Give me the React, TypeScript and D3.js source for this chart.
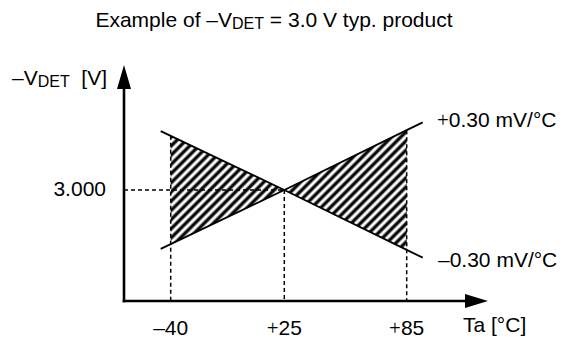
import React from "react";
import * as d3 from "d3";

// temperature ticks (°C) and the detect voltage band (V)
const temps = [-40, 25, 85];
const tickLabels = ["–40", "+25", "+85"];
const typVoltage = 3.0;
const plusLine = [2.981, 3.0, 3.021]; // +0.30 mV/°C
const minusLine = [3.019, 3.0, 2.979]; // –0.30 mV/°C

const W = 567;
const H = 341;
const axisX = 124;
const axisY = 301;
const font = "'Liberation Sans', Arial, sans-serif";
const plusFont = "'Liberation Serif', 'Times New Roman', serif";

// schematic x axis, not to scale
const x = d3.scaleLinear().domain(temps).range([170.7, 284.3, 406.7]);
const y = d3.scaleLinear().domain([2.96, 3.04]).range([304, 76]);

const extend = (pts: [number, number][], left: number, right: number) => {
  const [a, b] = [pts[0], pts[1]];
  const [c, d] = [pts[pts.length - 2], pts[pts.length - 1]];
  const s1 = (b[1] - a[1]) / (b[0] - a[0]);
  const s2 = (d[1] - c[1]) / (d[0] - c[0]);
  return [[a[0] - left, a[1] - s1 * left], ...pts, [d[0] + right, d[1] + s2 * right]] as [number, number][];
};

const Plus = () => <tspan fontFamily={plusFont}>+</tspan>;

const App = () => {
  const line = d3.line();
  const plusPts = temps.map((t, i) => [x(t), y(plusLine[i])] as [number, number]);
  const minusPts = temps.map((t, i) => [x(t), y(minusLine[i])] as [number, number]);

  const leftArea = [
    [x(temps[0]), y(minusLine[0])],
    [x(temps[1]), y(typVoltage)],
    [x(temps[0]), y(plusLine[0])],
  ] as [number, number][];
  const rightArea = [
    [x(temps[2]), y(plusLine[2])],
    [x(temps[1]), y(typVoltage)],
    [x(temps[2]), y(minusLine[2])],
  ] as [number, number][];

  const dash = "4,3";
  const fs = 21;

  return (
    <svg width={W} height={H} style={{ position: "absolute", left: 0, top: 0, background: "#fff" }}>
      <defs>
        <linearGradient id="stripe" x1="0" x2="1" y1="0" y2="0">
          <stop offset="0" stopColor="#fff" />
          <stop offset="0.12" stopColor="#fff" />
          <stop offset="0.38" stopColor="#000" />
          <stop offset="0.62" stopColor="#000" />
          <stop offset="0.88" stopColor="#fff" />
          <stop offset="1" stopColor="#fff" />
        </linearGradient>
        <pattern id="hatch" width="6.5" height="6.5" patternUnits="userSpaceOnUse" patternTransform="rotate(45)">
          <rect width="6.5" height="6.5" fill="url(#stripe)" />
        </pattern>
      </defs>

      <text x={274} y={27} fontFamily={font} fontSize={fs} textAnchor="middle">
        Example of –V
        <tspan fontSize={16} dy={2}>DET</tspan>
        <tspan dy={-2}> = 3.0 V typ. product</tspan>
      </text>

      {/* hatched band */}
      <path d={line(leftArea) + "Z"} fill="url(#hatch)" />
      <path d={line(rightArea) + "Z"} fill="url(#hatch)" />

      {/* guide lines */}
      <g stroke="#000" strokeWidth={1.5} strokeDasharray={dash} fill="none">
        <line x1={axisX} x2={x(25)} y1={y(typVoltage)} y2={y(typVoltage)} />
        <line x1={x(-40)} x2={x(-40)} y1={y(minusLine[0])} y2={axisY} />
        <line x1={x(25)} x2={x(25)} y1={y(typVoltage)} y2={axisY} />
        <line x1={x(85)} x2={x(85)} y1={y(plusLine[2])} y2={axisY} />
      </g>

      {/* drift lines */}
      <path d={line(extend(plusPts, 10, 16)) ?? ""} stroke="#000" strokeWidth={1.8} fill="none" />
      <path d={line(extend(minusPts, 10, 16)) ?? ""} stroke="#000" strokeWidth={1.8} fill="none" />

      {/* axes */}
      <line x1={axisX} x2={axisX} y1={axisY + 1.3} y2={88} stroke="#000" strokeWidth={2.6} />
      <path d={`M${axisX - 7},${89}L${axisX},${65}L${axisX + 7},${89}Z`} fill="#000" />
      <line x1={axisX - 1.3} x2={466} y1={axisY} y2={axisY} stroke="#000" strokeWidth={2.6} />
      <path d={`M${465},${axisY - 7}L${488},${axisY}L${465},${axisY + 7}Z`} fill="#000" />

      <g fontFamily={font} fontSize={fs} fill="#000">
        <text x={12} y={85}>
          –V<tspan fontSize={16} dy={2}>DET</tspan>
          <tspan dy={-2}>{"\u00a0\u00a0[V]"}</tspan>
        </text>
        <text x={106} y={196} textAnchor="end">
          {typVoltage.toFixed(3)}
        </text>
        <text x={437} y={127}>
          <Plus />0.30 mV/°C
        </text>
        <text x={438} y={267}>–0.30 mV/°C</text>
        {temps.map((t, i) => (
          <text key={t} x={x(t)} y={335} textAnchor="middle">
            {tickLabels[i].startsWith("+") ? (
              <>
                <Plus />
                {tickLabels[i].slice(1)}
              </>
            ) : (
              tickLabels[i]
            )}
          </text>
        ))}
        <text x={463} y={332}>Ta [°C]</text>
      </g>
    </svg>
  );
};

export default App;
